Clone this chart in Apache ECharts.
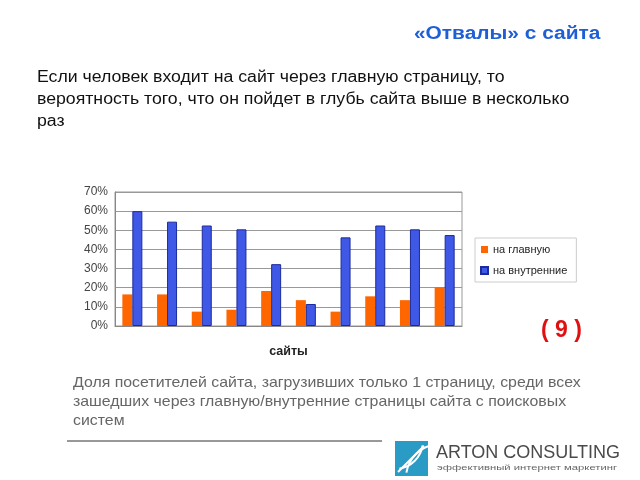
<!DOCTYPE html>
<html><head><meta charset="utf-8">
<script src="https://cdn.jsdelivr.net/npm/echarts@6/dist/echarts.min.js"></script>
<style>html,body{margin:0;padding:0;background:#fff}#c{width:640px;height:480px}</style>
</head><body><div id="c"></div>
<script>
var categories = ['1','2','3','4','5','6','7','8','9','10'];
var seriesNames = ['на главную', 'на внутренние'];
var mainValues = [16.5, 16.5, 7.5, 8.5, 18.3, 13.5, 7.5, 15.5, 13.5, 20.3];
var innerValues = [60, 54.5, 52.5, 50.5, 32.3, 11.5, 46.3, 52.5, 50.5, 47.5];
var yTicks = [0, 10, 20, 30, 40, 50, 60, 70];

var chart = echarts.init(document.getElementById('c'), null, {renderer: 'canvas'});
var F = '"Liberation Sans", Arial, sans-serif';
chart.setOption({
  backgroundColor: '#fff',
  animation: false,
  grid: {left: 115, right: 178, top: 192, bottom: 154, show: true, borderColor: '#999', borderWidth: 1},
  legend: {
    orient: 'vertical', left: 475, top: 238, itemWidth: 7, itemHeight: 7, itemGap: 10,
    padding: [6, 9, 6, 5], borderColor: '#ccc', borderWidth: 1,
    textStyle: {fontFamily: F, fontSize: 11, color: '#222'},
    data: seriesNames, icon: 'rect'
  },
  xAxis: {
    type: 'category', data: categories,
    name: 'сайты', nameLocation: 'middle', nameGap: 19,
    nameTextStyle: {fontFamily: F, fontSize: 12.5, fontWeight: 'bold', color: '#222'},
    axisLabel: {show: false}, axisTick: {show: false},
    axisLine: {lineStyle: {color: '#888'}}
  },
  yAxis: {
    type: 'value', min: yTicks[0], max: yTicks[yTicks.length - 1], interval: 10,
    axisLabel: {formatter: '{value}%', fontFamily: F, fontSize: 12, color: '#444', margin: 7},
    axisLine: {show: true, lineStyle: {color: '#888'}}, axisTick: {show: false},
    splitLine: {lineStyle: {color: '#999'}}
  },
  series: [
    {name: seriesNames[0], type: 'bar', data: mainValues, barWidth: 10, barGap: '0%',
     itemStyle: {color: '#FF6600'}},
    {name: seriesNames[1], type: 'bar', data: innerValues, barWidth: 10,
     itemStyle: {color: '#4058e6', borderColor: '#1c2a9c', borderWidth: 1}}
  ],
  graphic: [
    {type: 'text', x: 414, y: 25, scaleX: 1.16, style: {text: '«Отвалы» с сайта', font: 'bold 18px ' + F, fill: '#1f5fd6'}},
    {type: 'text', x: 37, y: 67, scaleX: 1.105, style: {text: 'Если человек входит на сайт через главную страницу, то\nвероятность того, что он пойдет в глубь сайта выше в несколько\nраз', font: '16px ' + F, fill: '#111', lineHeight: 22}},
    {type: 'text', x: 541, y: 319, style: {text: '( 9 )', font: 'bold 23px ' + F, fill: '#e01010'}},
    {type: 'text', x: 73, y: 373, scaleX: 1.095, style: {text: 'Доля посетителей сайта, загрузивших только 1 страницу, среди всех\nзашедших через главную/внутренние страницы сайта с поисковых\nсистем', font: '14.5px ' + F, fill: '#666', lineHeight: 19}},
    {type: 'line', shape: {x1: 67, y1: 441, x2: 382, y2: 441}, style: {stroke: '#333', lineWidth: 1}},
    {type: 'rect', shape: {x: 395, y: 441, width: 33, height: 35}, style: {fill: '#2a9bc4'}},
    {type: 'arc', shape: {cx: 440, cy: 478, r: 34, startAngle: Math.PI * 1.05, endAngle: Math.PI * 1.45}, style: {stroke: '#fff', lineWidth: 2, fill: null}},
    {type: 'arc', shape: {cx: 395, cy: 441, r: 28, startAngle: Math.PI * 0.05, endAngle: Math.PI * 0.45}, style: {stroke: '#fff', lineWidth: 2, fill: null}},
    {type: 'line', shape: {x1: 398, y1: 472, x2: 424, y2: 446}, style: {stroke: '#fff', lineWidth: 2}},
    {type: 'text', x: 436, y: 444, style: {text: 'ARTON CONSULTING', font: '18px ' + F, fill: '#4a4a4a'}},
    {type: 'text', x: 437, y: 464, scaleX: 1.5, style: {text: 'эффективный интернет маркетинг', font: '7.5px ' + F, fill: '#666'}}
  ]
});
</script></body></html>
